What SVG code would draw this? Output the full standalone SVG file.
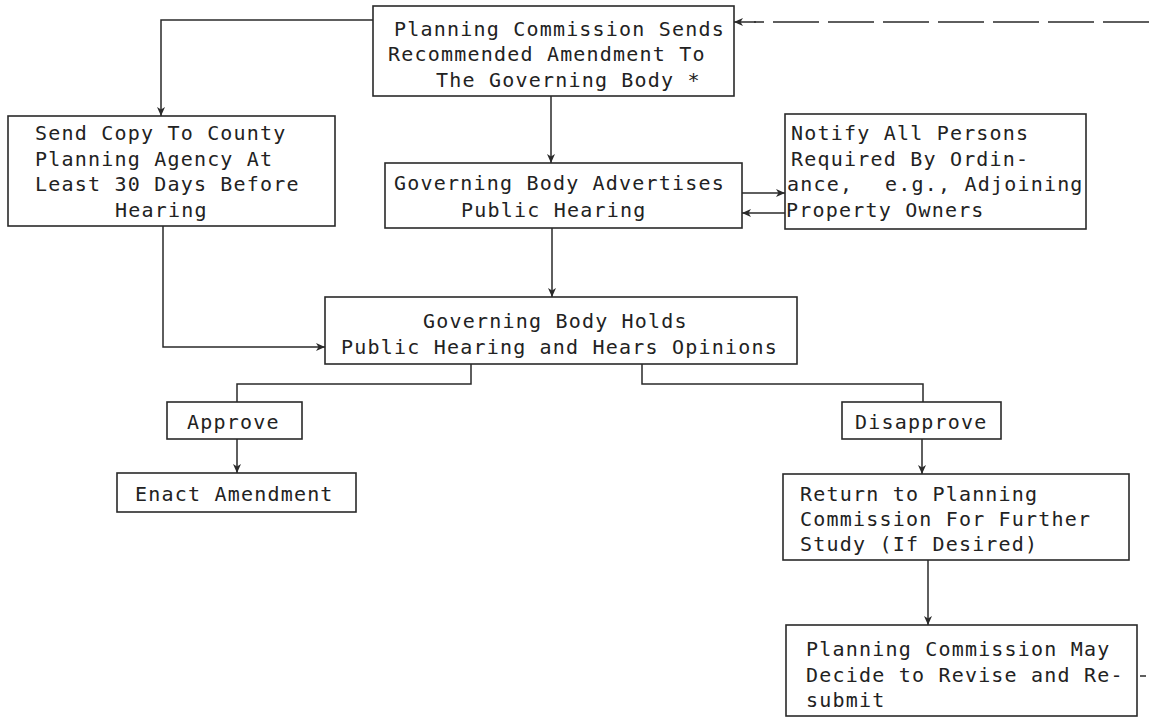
<svg xmlns="http://www.w3.org/2000/svg" width="1149" height="717" viewBox="0 0 1149 717">
<defs>
<marker id="ah" markerWidth="9" markerHeight="8" refX="9" refY="4" orient="auto" markerUnits="userSpaceOnUse">
<path d="M0,0 L9,4 L0,8 L2.5,4 z" fill="#2a2a2a"/>
</marker>
</defs>
<style>
.box{fill:#ffffff;stroke:#2a2a2a;stroke-width:1.6}
.ln{fill:none;stroke:#2a2a2a;stroke-width:1.5}
.dash{fill:none;stroke:#2a2a2a;stroke-width:1.5;stroke-dasharray:46 9}
text{font-family:"DejaVu Sans Mono","Liberation Mono",monospace;font-size:20px;letter-spacing:1.2px;fill:#222222}
</style>
<rect width="1149" height="717" fill="#ffffff"/>
<g id="connectors">
<path class="ln" d="M373,20 H161 V116" marker-end="url(#ah)"/>
<path class="ln" d="M551,96 V163" marker-end="url(#ah)"/>
<path class="ln" d="M552,228 V297" marker-end="url(#ah)"/>
<path class="ln" d="M163,226 V347 H325" marker-end="url(#ah)"/>
<path class="ln" d="M742,193 H785" marker-end="url(#ah)"/>
<path class="ln" d="M785,213 H742" marker-end="url(#ah)"/>
<path class="dash" d="M1149,22 H754"/>
<path class="ln" d="M756,22 H734" marker-end="url(#ah)"/>
<path class="ln" d="M471,364 V384 H237 V402"/>
<path class="ln" d="M642,364 V384 H923 V402"/>
<path class="ln" d="M237,439 V473" marker-end="url(#ah)"/>
<path class="ln" d="M922,439 V474" marker-end="url(#ah)"/>
<path class="ln" d="M928,560 V625" marker-end="url(#ah)"/>
<path class="ln" d="M1140,676 H1146"/>
</g>
<g id="n-planning-sends">
<rect class="box" x="373" y="6" width="361" height="90"/>
<text x="394" y="36">Planning Commission Sends</text>
<text x="388" y="61">Recommended Amendment To</text>
<text x="436" y="87">The Governing Body *</text>
</g>
<g id="n-send-copy">
<rect class="box" x="8" y="116" width="327" height="110"/>
<text x="35" y="140">Send Copy To County</text>
<text x="35" y="166">Planning Agency At</text>
<text x="35" y="191">Least 30 Days Before</text>
<text x="115" y="217">Hearing</text>
</g>
<g id="n-advertises">
<rect class="box" x="385" y="163" width="357" height="65"/>
<text x="394" y="190">Governing Body Advertises</text>
<text x="461" y="217">Public Hearing</text>
</g>
<g id="n-notify">
<rect class="box" x="785" y="114" width="301" height="115"/>
<text x="791" y="140">Notify All Persons</text>
<text x="791" y="166">Required By Ordin-</text>
<text x="787" y="191">ance,<tspan x="885">e.g., Adjoining</tspan></text>
<text x="786" y="217">Property Owners</text>
</g>
<g id="n-holds">
<rect class="box" x="325" y="297" width="472" height="67"/>
<text x="423" y="328">Governing Body Holds</text>
<text x="341" y="354">Public Hearing and Hears Opinions</text>
</g>
<g id="n-approve">
<rect class="box" x="167" y="402" width="135" height="37"/>
<text x="187" y="429">Approve</text>
</g>
<g id="n-enact">
<rect class="box" x="117" y="473" width="239" height="39"/>
<text x="135" y="501">Enact Amendment</text>
</g>
<g id="n-disapprove">
<rect class="box" x="842" y="402" width="159" height="37"/>
<text x="855" y="429">Disapprove</text>
</g>
<g id="n-return">
<rect class="box" x="783" y="474" width="346" height="86"/>
<text x="800" y="501">Return to Planning</text>
<text x="800" y="526">Commission For Further</text>
<text x="800" y="551">Study (If Desired)</text>
</g>
<g id="n-may-revise">
<rect class="box" x="786" y="625" width="351" height="91"/>
<text x="806" y="656">Planning Commission May</text>
<text x="806" y="682">Decide to Revise and Re-</text>
<text x="806" y="707">submit</text>
</g>
</svg>
